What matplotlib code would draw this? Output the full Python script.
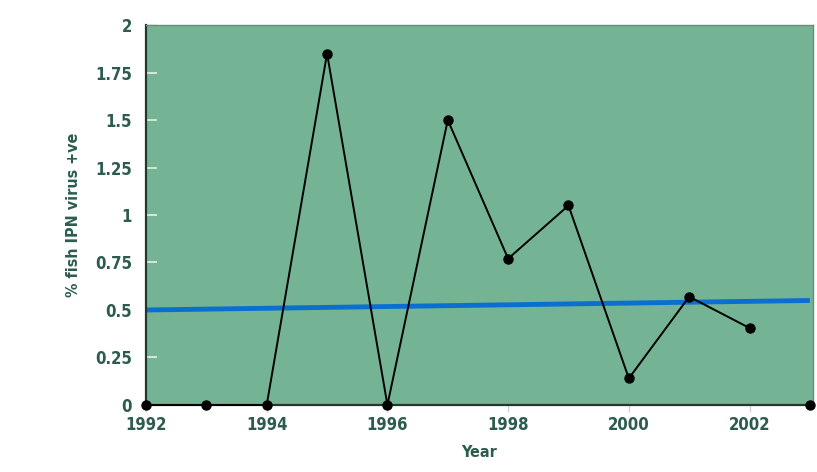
import matplotlib.pyplot as plt
import numpy as np

# data
years = [1992, 1993, 1994, 1995, 1996, 1997, 1998, 1999, 2000, 2001, 2002]
pct_positive = [0, 0, 0, 1.85, 0, 1.5, 0.77, 1.05, 0.14, 0.57, 0.405]
extra_year = [2003]
extra_value = [0]
trend_x = [1992, 2003]
trend_y = [0.5, 0.55]

xticks = [1992, 1994, 1996, 1998, 2000, 2002]
yticks = [0, 0.25, 0.5, 0.75, 1, 1.25, 1.5, 1.75, 2]
ytick_labels = ['0', '0.25', '0.5', '0.75', '1', '1.25', '1.5', '1.75', '2']

text_col = '#2d5c4e'
bg = '#74b394'

fig = plt.figure(figsize=(8.17, 4.72), dpi=100)
ax = fig.add_axes([0.1787, 0.142, 0.8163, 0.805])
ax.set_facecolor(bg)

ax.plot(trend_x, trend_y, color='#0a6fd0', lw=3.5, solid_capstyle='butt', zorder=2)
ax.plot(years, pct_positive, '-o', color='black', lw=1.4, markersize=6.5, clip_on=False, zorder=3)
ax.plot(extra_year, extra_value, 'o', color='black', markersize=6.5, clip_on=False, zorder=3)

ax.set_xlim(1992, 2003.05)
ax.set_ylim(0, 2)

ax.set_xticks(xticks)
ax.set_xticklabels([str(x) for x in xticks])
ax.set_yticks(yticks)
ax.set_yticklabels(ytick_labels)

ax.tick_params(axis='y', direction='in', color='#e6f2ea', length=8, width=1.2, pad=10,
               labelsize=12, labelcolor=text_col)
ax.tick_params(axis='x', direction='out', color='#c8d8d0', length=5, width=1, pad=3,
               labelsize=12, labelcolor=text_col)
for lab in ax.get_xticklabels() + ax.get_yticklabels():
    lab.set_fontweight('bold')
    lab.set_fontstretch('condensed')

for side in ['left', 'bottom']:
    ax.spines[side].set_color('#1f3a2c')
    ax.spines[side].set_linewidth(1.6)
for side in ['top', 'right']:
    ax.spines[side].set_color('#6b8a7a')
    ax.spines[side].set_linewidth(1.0)

ax.set_xlabel('Year', fontsize=11.5, fontweight='bold', fontstretch='condensed',
              color=text_col, labelpad=8)
ax.set_ylabel('% fish IPN virus +ve', fontsize=11.5, fontweight='bold', fontstretch='condensed',
              color=text_col, labelpad=10)

fig.savefig('out.png', dpi=100)
